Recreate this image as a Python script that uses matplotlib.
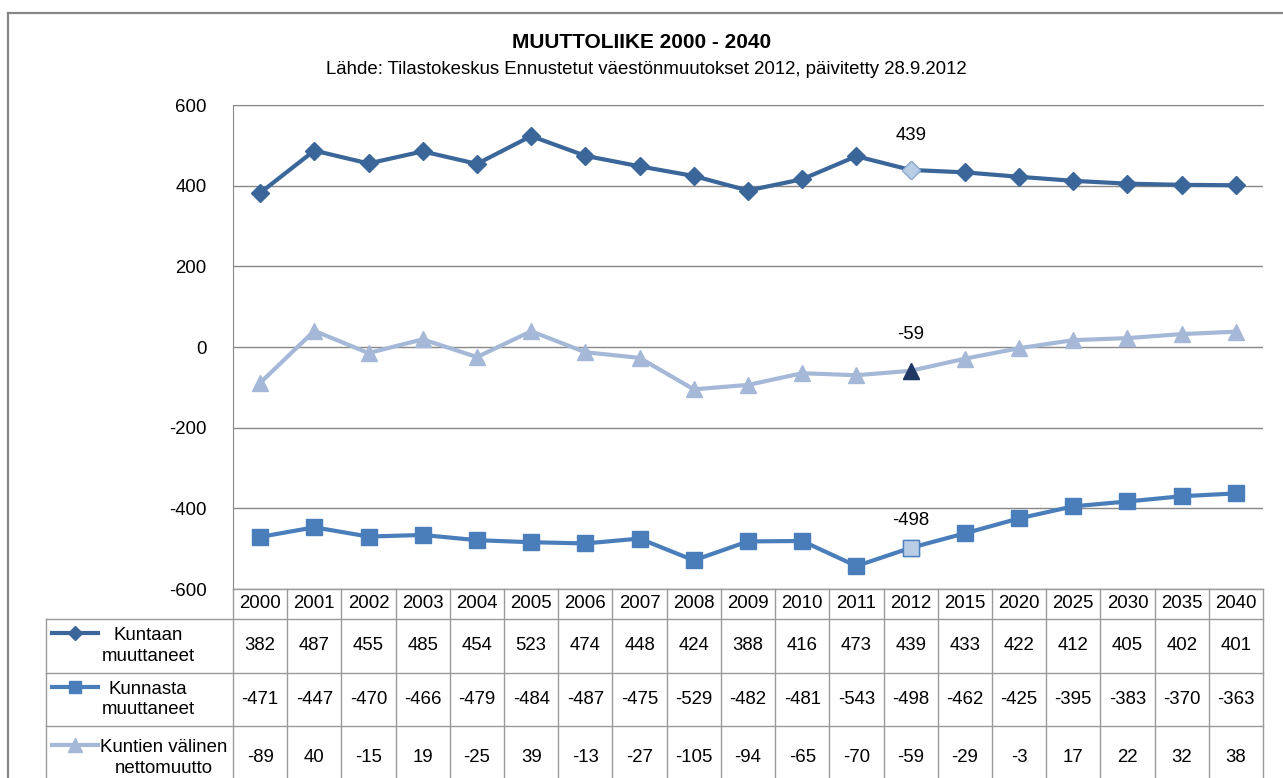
import matplotlib
matplotlib.use("Agg")
import matplotlib.pyplot as plt
from matplotlib.lines import Line2D

plt.rcParams['font.family'] = ['Liberation Sans', 'DejaVu Sans']
plt.rcParams['axes.unicode_minus'] = False

years = ['2000', '2001', '2002', '2003', '2004', '2005', '2006', '2007', '2008', '2009',
         '2010', '2011', '2012', '2015', '2020', '2025', '2030', '2035', '2040']
kuntaan = [382, 487, 455, 485, 454, 523, 474, 448, 424, 388, 416, 473, 439, 433, 422, 412, 405, 402, 401]
kunnasta = [-471, -447, -470, -466, -479, -484, -487, -475, -529, -482, -481, -543, -498, -462, -425, -395, -383, -370, -363]
netto = [-89, 40, -15, 19, -25, 39, -13, -27, -105, -94, -65, -70, -59, -29, -3, 17, 22, 32, 38]
labels = ['Kuntaan\nmuuttaneet', 'Kunnasta\nmuuttaneet', 'Kuntien välinen\nnettomuutto']
hl = 12  # index of 2012, highlighted point

W, H = 1283, 778
c1, c2, c3 = '#3b669a', '#4a7ebb', '#a5b8d8'
grid_c = '#888888'
tab_c = '#9a9a9a'
fs = 13.4

fig = plt.figure(figsize=(W / 100, H / 100), dpi=100)

# plot area in pixels
pl, pt, pr, pb = 233, 105, 1263, 589
ax = fig.add_axes([pl / W, 1 - pb / H, (pr - pl) / W, (pb - pt) / H])
x = list(range(len(years)))

ax.plot(x, kuntaan, color=c1, lw=3, marker='D', ms=9, mec=c1, zorder=3)
ax.plot(x, kunnasta, color=c2, lw=3, marker='s', ms=12, mec=c2, zorder=3)
ax.plot(x, netto, color=c3, lw=3, marker='^', ms=12, mec=c3, zorder=3)

# highlighted 2012 markers
ax.plot(x[hl], kuntaan[hl], marker='D', ms=9, mfc='#b9cde5', mec='#95b3d7', zorder=4)
ax.plot(x[hl], kunnasta[hl], marker='s', ms=12, mfc='#b9cde5', mec='#4f81bd', mew=1, zorder=4)
ax.plot(x[hl], netto[hl], marker='^', ms=11, mfc='#1f3864', mec='#1f3864', zorder=4)

for s, dy in ((kuntaan, 25), (netto, 26), (kunnasta, 20)):
    ax.annotate(str(s[hl]), (x[hl], s[hl]), xytext=(0, dy), textcoords='offset points',
                ha='center', va='center', fontsize=fs)

ax.set_xlim(-0.5, len(years) - 0.5)
ax.set_ylim(-600, 600)
ax.set_yticks(range(-600, 601, 200))
ax.set_xticks([])
ax.yaxis.grid(True, color=grid_c, lw=1)
ax.set_axisbelow(True)
ax.tick_params(axis='y', length=0, pad=19, labelsize=fs)
for sp in ('right', 'bottom'):
    ax.spines[sp].set_visible(False)
ax.spines['left'].set_color(grid_c)
ax.spines['top'].set_color(grid_c)

# data table below the plot, x in category units, y in pixels
colw = (pr - pl) / len(years)
tl = 46
tab = fig.add_axes([tl / W, 0, (pr - tl) / W, (H - pb) / H])
x0 = -0.5 - (pl - tl) / colw
tab.set_xlim(x0, len(years) - 0.5)
tab.set_ylim(H, pb)
tab.axis('off')


def fx(px):
    return -0.5 - (pl - px) / colw


rows = [pb, 619, 673, 726, 790]
xe = len(years) - 0.5
tab.plot([-0.5, xe], [rows[0], rows[0]], color=tab_c, lw=1, clip_on=False)
for r in rows[1:4]:
    tab.plot([x0, xe], [r, r], color=tab_c, lw=1, clip_on=False)
tab.plot([x0, x0], [rows[1], H], color=tab_c, lw=1, clip_on=False)
for i in range(len(years) + 1):
    tab.plot([i - 0.5, i - 0.5], [rows[0], H], color=tab_c, lw=1, clip_on=False)

for i, yr in enumerate(years):
    tab.text(i, (rows[0] + rows[1]) / 2, yr, ha='center', va='center', fontsize=fs)

series = [kuntaan, kunnasta, netto]
styles = [(c1, 'D', 7), (c2, 's', 9), (c3, '^', 10)]
lab_cx = [148, 148, 164]
for k, (vals, (col, mk, ms)) in enumerate(zip(series, styles)):
    ymid = (rows[k + 1] + rows[k + 2]) / 2
    for i, v in enumerate(vals):
        tab.text(i, ymid, str(v), ha='center', va='center', fontsize=fs)
    tab.text(fx(lab_cx[k]), ymid, labels[k], ha='center', va='center', fontsize=fs,
             multialignment='center', linespacing=1.3)
    ly = ymid - 13
    tab.plot([fx(52), fx(75), fx(98)], [ly, ly, ly], color=col, lw=3,
             marker=mk, ms=ms, mec=col, markevery=[1], clip_on=False)

# outer chart frame
fig.add_artist(Line2D([8 / W, 8 / W], [0, 1 - 13 / H], color='#868686', lw=1.6))
fig.add_artist(Line2D([8 / W, 1], [1 - 13 / H, 1 - 13 / H], color='#868686', lw=1.6))

fig.text(642 / W, 1 - 43 / H, 'MUUTTOLIIKE 2000 - 2040', ha='center', va='center',
         fontsize=15, fontweight='bold')
fig.text(646 / W, 1 - 70 / H,
         'Lähde: Tilastokeskus Ennustetut väestönmuutokset 2012, päivitetty 28.9.2012',
         ha='center', va='center', fontsize=13.4)

fig.savefig('out.png', dpi=100)
